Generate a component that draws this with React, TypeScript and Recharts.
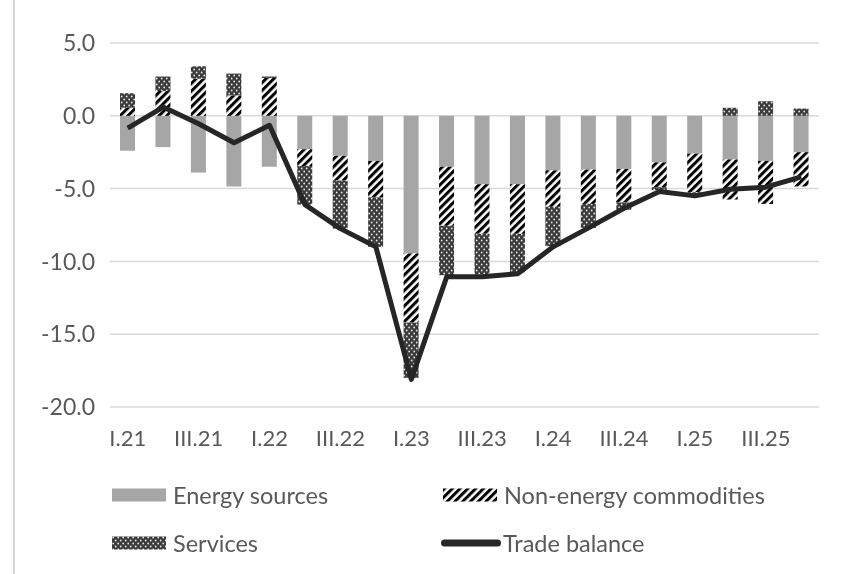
import React from "react";
import {
  ComposedChart,
  Bar,
  Line,
  XAxis,
  YAxis,
  CartesianGrid,
  Legend,
} from "recharts";

const quarters = [
  "I.21", "II.21", "III.21", "IV.21",
  "I.22", "II.22", "III.22", "IV.22",
  "I.23", "II.23", "III.23", "IV.23",
  "I.24", "II.24", "III.24", "IV.24",
  "I.25", "II.25", "III.25", "IV.25",
];

const energy = [-2.4, -2.15, -3.9, -4.85, -3.5, -2.3, -2.75, -3.1, -9.45, -3.5, -4.7, -4.7, -3.75, -3.7, -3.65, -3.2, -2.6, -3.0, -3.1, -2.5];
const nonEnergy = [0.55, 1.7, 2.55, 1.4, 2.6, -1.15, -1.7, -2.5, -4.75, -4.05, -3.4, -3.4, -2.5, -2.35, -2.3, -1.7, -2.65, -2.75, -2.95, -2.35];
const services = [1.0, 1.0, 0.85, 1.5, 0.1, -2.65, -3.3, -3.4, -3.8, -3.4, -2.8, -2.65, -2.7, -1.65, -0.5, -0.2, -0.15, 0.55, 1.0, 0.5];
const tradeBalance = [-0.85, 0.6, -0.55, -1.85, -0.65, -6.1, -7.75, -9.0, -18.1, -11.05, -11.05, -10.85, -9.0, -7.7, -6.35, -5.2, -5.5, -5.05, -4.9, -4.2];

const yTicks = [-20, -15, -10, -5, 0, 5];

const data = quarters.map((q, i) => ({
  q,
  energy: energy[i],
  nonEnergy: nonEnergy[i],
  services: services[i],
  trade: tradeBalance[i],
}));

const FONT = "Lato, 'Noto Sans', sans-serif";
const TEXT = "#595959";

// pattern defs shared by bars and legend swatches
const Patterns = ({ suffix }: { suffix: string }) => (
  <defs>
    <pattern id={"hatch" + suffix} width="5.5" height="5.5" patternUnits="userSpaceOnUse" patternTransform="rotate(45)">
      <rect width="5.5" height="5.5" fill="#fff" />
      <rect width="3" height="5.5" fill="#000" />
    </pattern>
    <pattern id={"dots" + suffix} width="5" height="6" patternUnits="userSpaceOnUse">
      <rect width="5" height="6" fill="#3a3a3a" />
      <circle cx="1.2" cy="1.5" r="0.9" fill="#e6e6e6" />
      <circle cx="3.7" cy="4.5" r="0.9" fill="#e6e6e6" />
    </pattern>
  </defs>
);

const legendItems = [
  { name: "Energy sources", kind: "solid", left: 104, top: 21 },
  { name: "Non-energy commodities", kind: "hatch", left: 435, top: 21 },
  { name: "Services", kind: "dots", left: 104, top: 69 },
  { name: "Trade balance", kind: "line", left: 433, top: 69 },
];

const renderLegend = () => (
  <div style={{ position: "relative", width: 835, height: 100, fontFamily: FONT, fontSize: 23.5, color: TEXT }}>
    {legendItems.map((it) => (
      <div
        key={it.name}
        style={{ position: "absolute", left: it.left, top: it.top, transform: "translateY(-50%)", display: "flex", alignItems: "center" }}
      >
        <svg width={it.kind === "line" ? 60 : 54} height={14} style={{ marginRight: it.kind === "line" ? 2 : 7 }}>
          <Patterns suffix="L" />
          {it.kind === "line" ? (
            <line x1={3.5} y1={7} x2={56.5} y2={7} stroke="#262626" strokeWidth={7} strokeLinecap="round" />
          ) : (
            <rect
              x={0}
              y={0.5}
              width={54}
              height={13}
              fill={it.kind === "solid" ? "#a6a6a6" : it.kind === "hatch" ? "url(#hatchL)" : "url(#dotsL)"}
            />
          )}
        </svg>
        <span style={{ whiteSpace: "nowrap" }}>{it.name}</span>
      </div>
    ))}
  </div>
);

export default function App() {
  return (
    <div>
      <div style={{ position: "fixed", left: 13, top: 0, bottom: 0, width: 2, background: "#d6d6d6" }} />
      <ComposedChart
        width={835}
        height={566}
        data={data}
        stackOffset="sign"
        margin={{ top: 35, right: 24, left: 30, bottom: 0 }}
      >
        <Patterns suffix="" />
        <CartesianGrid vertical={false} stroke="#d9d9d9" strokeWidth={1.5} />
        <XAxis
          dataKey="q"
          interval={1}
          axisLine={false}
          tickLine={false}
          tickSize={0}
          tickMargin={23}
          height={67}
          tick={{ fill: TEXT, fontSize: 22, fontFamily: FONT }}
        />
        <YAxis
          domain={[-20, 5]}
          ticks={yTicks}
          width={72}
          axisLine={false}
          tickLine={false}
          tickSize={0}
          tickMargin={15}
          tickFormatter={(v: number) => v.toFixed(1)}
          tick={{ fill: TEXT, fontSize: 23, fontFamily: FONT }}
        />
        <Legend verticalAlign="bottom" content={renderLegend} wrapperStyle={{ left: 0, width: 835, height: 100 }} />
        <Bar dataKey="energy" stackId="a" fill="#a6a6a6" barSize={15} isAnimationActive={false} />
        <Bar dataKey="nonEnergy" stackId="a" fill="url(#hatch)" barSize={15} isAnimationActive={false} />
        <Bar dataKey="services" stackId="a" fill="url(#dots)" barSize={15} isAnimationActive={false} />
        <Line
          dataKey="trade"
          type="linear"
          stroke="#262626"
          strokeWidth={5}
          strokeLinejoin="round"
          dot={false}
          activeDot={false}
          isAnimationActive={false}
        />
      </ComposedChart>
    </div>
  );
}
